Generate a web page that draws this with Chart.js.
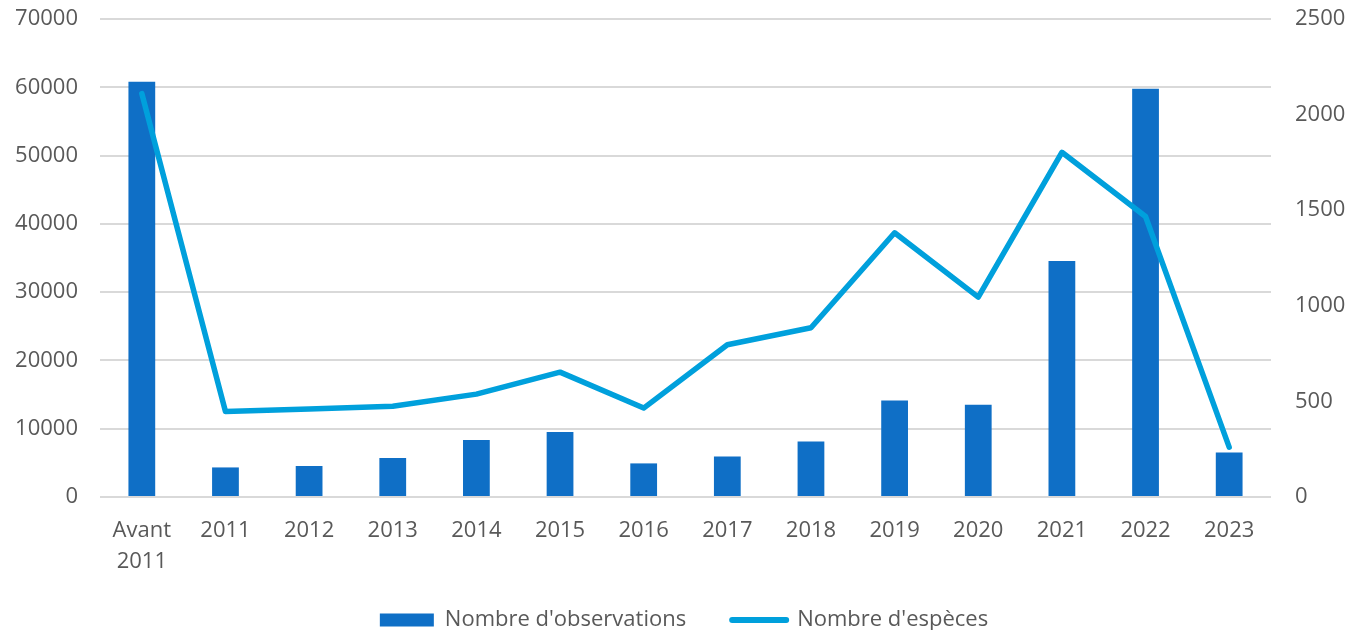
<!DOCTYPE html>
<html>
<head>
<meta charset="utf-8">
<script src="https://cdn.jsdelivr.net/npm/chart.js@4"></script>
<style>
  html, body { margin: 0; padding: 0; background: #ffffff; }
  #wrap { width: 1368px; height: 630px; }
</style>
</head>
<body>
<div id="wrap"><canvas id="graphique"></canvas></div>
<script>
// Données
const annees = [['Avant', '2011'], '2011', '2012', '2013', '2014', '2015', '2016', '2017', '2018', '2019', '2020', '2021', '2022', '2023'];
const nbObservations = [60800, 4330, 4540, 5720, 8350, 9520, 4920, 5940, 8140, 14150, 13510, 34550, 59780, 6530];
const nbEspeces = [2110, 447, 460, 475, 538, 653, 465, 796, 885, 1382, 1045, 1803, 1467, 261];

const bleuBarres = '#0F6FC6';
const bleuLigne = '#00A0DC';
const gris = '#595959';
const police = "'Open Sans', sans-serif";

const ctx = document.getElementById('graphique').getContext('2d');

new Chart(ctx, {
    data: {
        labels: annees,
        datasets: [
            {
                type: 'line',
                label: "Nombre d'espèces",
                data: nbEspeces,
                yAxisID: 'y1',
                borderColor: bleuLigne,
                borderWidth: 5.5,
                borderCapStyle: 'round',
                borderJoinStyle: 'round',
                pointRadius: 0,
                tension: 0,
                fill: false,
                order: 0
            },
            {
                type: 'bar',
                label: "Nombre d'observations",
                data: nbObservations,
                yAxisID: 'y',
                backgroundColor: bleuBarres,
                barPercentage: 0.64,
                categoryPercentage: 0.5,
                order: 1
            }
        ]
    },
    options: {
        responsive: true,
        maintainAspectRatio: false,
        animation: false,
        layout: { padding: { top: 19, left: 0, right: 0, bottom: -11 } },
        plugins: {
            tooltip: { enabled: false },
            legend: {
                position: 'bottom',
                labels: {
                    color: gris,
                    font: { family: police, size: 22 },
                    usePointStyle: true,
                    pointStyleWidth: 54,
                    boxHeight: 13,
                    padding: 46,
                    generateLabels: function(chart) {
                        return [
                            {
                                text: "Nombre d'observations",
                                fillStyle: bleuBarres,
                                strokeStyle: bleuBarres,
                                lineWidth: 0,
                                pointStyle: 'rect',
                                fontColor: gris,
                                datasetIndex: 1
                            },
                            {
                                text: "Nombre d'espèces",
                                fillStyle: bleuLigne,
                                strokeStyle: bleuLigne,
                                lineWidth: 6,
                                lineCap: 'round',
                                pointStyle: 'line',
                                fontColor: gris,
                                datasetIndex: 0
                            }
                        ];
                    }
                }
            }
        },
        scales: {
            x: {
                afterFit: function(scale) {
                    scale.height = 66;
                    // laisser la 2e ligne de "Avant 2011" déborder sous l'axe
                    scale._computeLabelArea = function() { return undefined; };
                },
                grid: { display: false, drawTicks: false },
                border: { display: false },
                ticks: {
                    color: gris,
                    font: { family: police, size: 22, lineHeight: 1.43 },
                    padding: 18,
                    maxRotation: 0,
                    autoSkip: false
                }
            },
            y: {
                position: 'left',
                min: 0,
                max: 70000,
                afterFit: function(scale) { scale.width = 100; },
                grid: { color: '#d9d9d9', lineWidth: 2, drawTicks: true, tickLength: 22, tickColor: 'transparent' },
                border: { display: false },
                ticks: {
                    stepSize: 10000,
                    color: gris,
                    font: { family: police, size: 22 },
                    padding: 0,
                    callback: function(valeur) { return String(valeur); }
                }
            },
            y1: {
                position: 'right',
                min: 0,
                max: 2500,
                afterFit: function(scale) { scale.width = 97; },
                grid: { display: true, drawOnChartArea: false, color: 'transparent', drawTicks: true, tickLength: 24, tickColor: 'transparent' },
                border: { display: false },
                ticks: {
                    stepSize: 500,
                    color: gris,
                    font: { family: police, size: 22 },
                    padding: 0,
                    callback: function(valeur) { return String(valeur); }
                }
            }
        }
    }
});
</script>
</body>
</html>
